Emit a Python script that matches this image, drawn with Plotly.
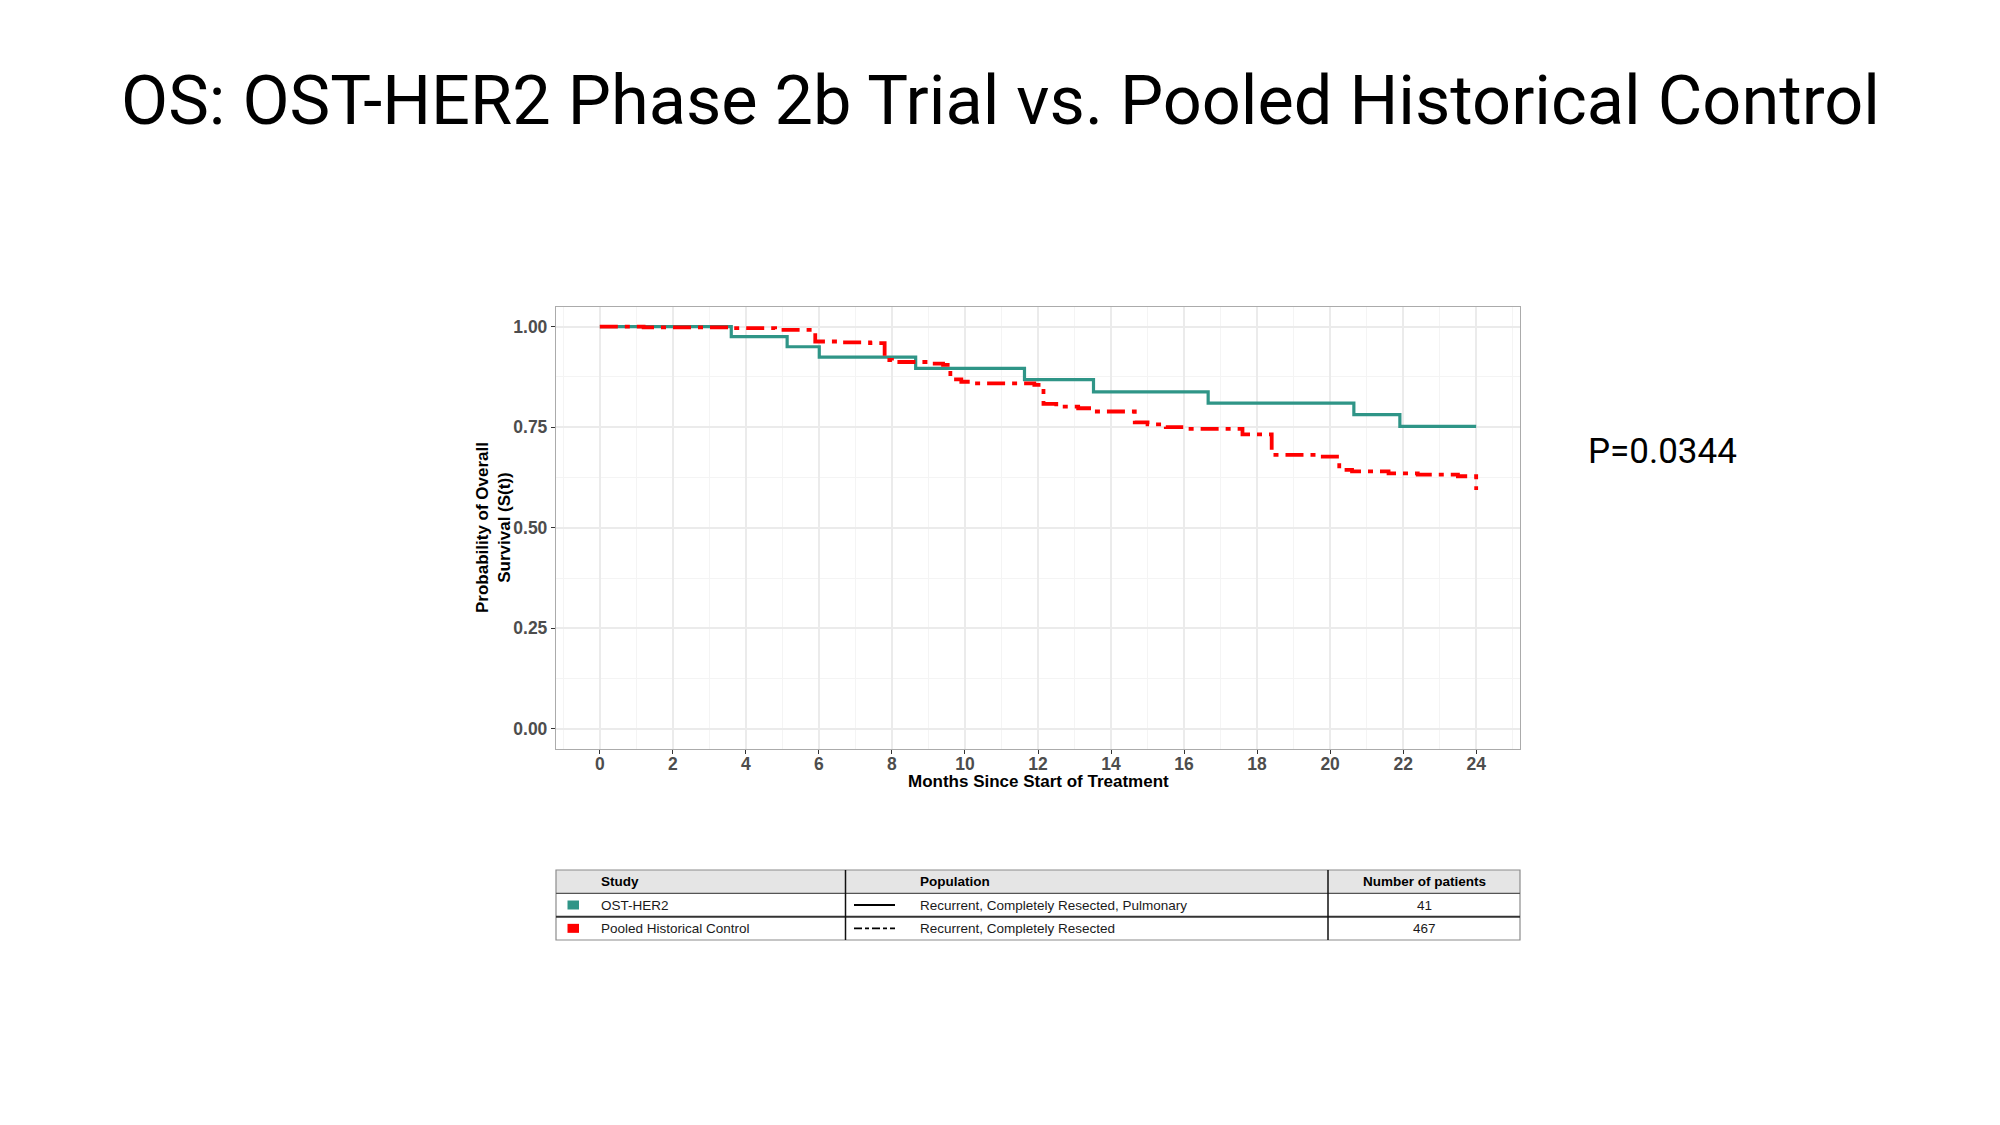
import plotly.graph_objects as go

# ---------------- data ----------------
ost_months = [0.0, 3.6, 5.13, 6.01, 8.65, 11.63, 13.52, 16.66, 20.65, 21.91, 24.0]
ost_surv = [1.000, 0.975, 0.950, 0.924, 0.896, 0.868, 0.838, 0.810, 0.781, 0.752, 0.752]

hist_months = [0.0, 1.2, 3.6, 4.8, 5.9, 6.5, 7.4, 7.8, 8.0, 9.0, 9.4, 9.6, 9.9, 10.2,
               11.9, 12.15, 12.5, 13.1, 13.4, 14.65, 15.0, 15.5, 16.0, 17.6, 18.4,
               19.7, 20.25, 20.6, 21.6, 22.4, 23.5, 24.0]
hist_surv = [1.000, 0.998, 0.996, 0.992, 0.963, 0.961, 0.959, 0.917, 0.912, 0.908, 0.905,
             0.869, 0.863, 0.859, 0.855, 0.808, 0.801, 0.797, 0.789, 0.762, 0.757, 0.750,
             0.746, 0.732, 0.681, 0.677, 0.644, 0.640, 0.635, 0.632, 0.628, 0.594]

x_ticks = [0, 2, 4, 6, 8, 10, 12, 14, 16, 18, 20, 22, 24]
y_ticks = [0.0, 0.25, 0.5, 0.75, 1.0]
y_tick_labels = ["0.00", "0.25", "0.50", "0.75", "1.00"]

table_headers = ["Study", "Population", "Number of patients"]
study_names = ["OST-HER2", "Pooled Historical Control"]
populations = ["Recurrent, Completely Resected, Pulmonary", "Recurrent, Completely Resected"]
n_patients = ["41", "467"]

title_text = "OS: OST-HER2 Phase 2b Trial vs. Pooled Historical Control"
p_value_text = "P=0.0344"

# ---------------- styles ----------------
OFF = 8                      # default body margin of the html page
W, H = 2000 - 2 * OFF, 1125 - 2 * OFF
TEAL = "#2F9587"
RED = "#FF0000"
study_colors = [TEAL, RED]
study_dashes = ["solid", "18px,7px,5px,7px"]
legend_dashes = ["solid", "8px,3px,4px,3px"]


def X(px):
    return (px - OFF) / W


def Y(py):
    return 1 - (py - OFF) / H


fig = go.Figure()
fig.add_trace(go.Scatter(x=ost_months, y=ost_surv, mode="lines", line_shape="hv",
                         line=dict(color=TEAL, width=3.2), showlegend=False))
fig.add_trace(go.Scatter(x=hist_months, y=hist_surv, mode="lines", line_shape="hv",
                         line=dict(color=RED, width=3.8, dash=study_dashes[1]),
                         showlegend=False))

tick_font = dict(family="Liberation Sans, Arial, sans-serif", size=17.5, color="#4D4D4D",
                 weight="bold")
fig.update_layout(
    width=W, height=H, autosize=False,
    margin=dict(l=0, r=0, t=0, b=0),
    paper_bgcolor="white", plot_bgcolor="white",
    xaxis=dict(domain=[X(556), X(1520)], range=[-1.2, 25.2], tickvals=x_ticks,
               ticks="outside", ticklen=4, tickcolor="#333333", tickwidth=1,
               ticklabelstandoff=-5,
               showgrid=True, gridcolor="#EBEBEB", gridwidth=1.5,
               minor=dict(dtick=1, tick0=0, showgrid=True, gridcolor="#F4F4F4", gridwidth=1),
               showline=True, mirror=True, linecolor="#ABABAB", linewidth=1.3,
               zeroline=False, tickfont=tick_font, fixedrange=True),
    yaxis=dict(domain=[Y(749), Y(306.5)], range=[-0.05, 1.05], tickvals=y_ticks,
               ticktext=y_tick_labels,
               ticks="outside", ticklen=4, tickcolor="#333333", tickwidth=1,
               showgrid=True, gridcolor="#EBEBEB", gridwidth=1.5,
               minor=dict(dtick=0.125, tick0=0, showgrid=True, gridcolor="#F4F4F4", gridwidth=1),
               showline=True, mirror=True, linecolor="#ABABAB", linewidth=1.3,
               zeroline=False, tickfont=tick_font, fixedrange=True),
)

ann = []
ann.append(dict(x=X(1000), y=Y(101), xref="paper", yref="paper", text=title_text,
                showarrow=False, xanchor="center", yanchor="middle",
                font=dict(family="Roboto, sans-serif", size=68.5, color="black")))
ann.append(dict(x=X(1662), y=Y(451.5), xref="paper", yref="paper", text=p_value_text,
                showarrow=False, xanchor="center", yanchor="middle",
                font=dict(family="Roboto, sans-serif", size=35, color="black")))
axis_title_font = dict(family="Liberation Sans, Arial, sans-serif", size=17, color="black",
                       weight="bold")
ann.append(dict(x=X(1038), y=Y(781), xref="paper", yref="paper",
                text="Months Since Start of Treatment", showarrow=False,
                xanchor="center", yanchor="middle", font=axis_title_font))
ann.append(dict(x=X(493), y=Y(528), xref="paper", yref="paper",
                text="Probability of Overall<br>Survival (S(t))", showarrow=False,
                textangle=-90, xanchor="center", yanchor="middle", font=axis_title_font))

# ---------------- table ----------------
shapes = []
t_left, t_right = 556, 1520
col_x = [556, 845.5, 1328, 1520]
row_y = [870, 893.3, 916.7, 940]
table_font = dict(family="Liberation Sans, Arial, sans-serif", size=13.5, color="#1A1A1A")
header_font = dict(family="Liberation Sans, Arial, sans-serif", size=13.5, color="black",
                   weight="bold")

shapes.append(dict(type="rect", xref="paper", yref="paper", x0=X(t_left), x1=X(t_right),
                   y0=Y(row_y[1]), y1=Y(row_y[0]), fillcolor="#E5E5E5",
                   line=dict(width=0), layer="below"))
shapes.append(dict(type="rect", xref="paper", yref="paper", x0=X(t_left), x1=X(t_right),
                   y0=Y(row_y[3]), y1=Y(row_y[0]), fillcolor="rgba(0,0,0,0)",
                   line=dict(color="#8C8C8C", width=1.2)))
shapes.append(dict(type="line", xref="paper", yref="paper", x0=X(t_left), x1=X(t_right),
                   y0=Y(row_y[1]), y1=Y(row_y[1]), line=dict(color="#555555", width=1.2)))
shapes.append(dict(type="line", xref="paper", yref="paper", x0=X(t_left), x1=X(t_right),
                   y0=Y(row_y[2]), y1=Y(row_y[2]), line=dict(color="#333333", width=2)))
for cx in col_x[1:3]:
    shapes.append(dict(type="line", xref="paper", yref="paper", x0=X(cx), x1=X(cx),
                       y0=Y(row_y[3]), y1=Y(row_y[0]), line=dict(color="#111111", width=1.5)))

hdr_cy = (row_y[0] + row_y[1]) / 2
ann.append(dict(x=X(599), y=Y(hdr_cy), xref="paper", yref="paper", text=table_headers[0],
                showarrow=False, xanchor="left", yanchor="middle", font=header_font))
ann.append(dict(x=X(917.5), y=Y(hdr_cy), xref="paper", yref="paper", text=table_headers[1],
                showarrow=False, xanchor="left", yanchor="middle", font=header_font))
ann.append(dict(x=X(1424), y=Y(hdr_cy), xref="paper", yref="paper", text=table_headers[2],
                showarrow=False, xanchor="center", yanchor="middle", font=header_font))

for i in range(len(study_names)):
    cy = (row_y[i + 1] + row_y[i + 2]) / 2
    shapes.append(dict(type="rect", xref="paper", yref="paper", x0=X(567.5), x1=X(579),
                       y0=Y(cy + 4.5), y1=Y(cy - 4.5), fillcolor=study_colors[i],
                       line=dict(width=0)))
    shapes.append(dict(type="line", xref="paper", yref="paper", x0=X(854), x1=X(895),
                       y0=Y(cy), y1=Y(cy),
                       line=dict(color="black", width=1.8, dash=legend_dashes[i])))
    ann.append(dict(x=X(599), y=Y(cy), xref="paper", yref="paper", text=study_names[i],
                    showarrow=False, xanchor="left", yanchor="middle", font=table_font))
    ann.append(dict(x=X(917.5), y=Y(cy), xref="paper", yref="paper", text=populations[i],
                    showarrow=False, xanchor="left", yanchor="middle", font=table_font))
    ann.append(dict(x=X(1424), y=Y(cy), xref="paper", yref="paper", text=n_patients[i],
                    showarrow=False, xanchor="center", yanchor="middle", font=table_font))

fig.update_layout(annotations=ann, shapes=shapes)
fig.write_html("out.html")
